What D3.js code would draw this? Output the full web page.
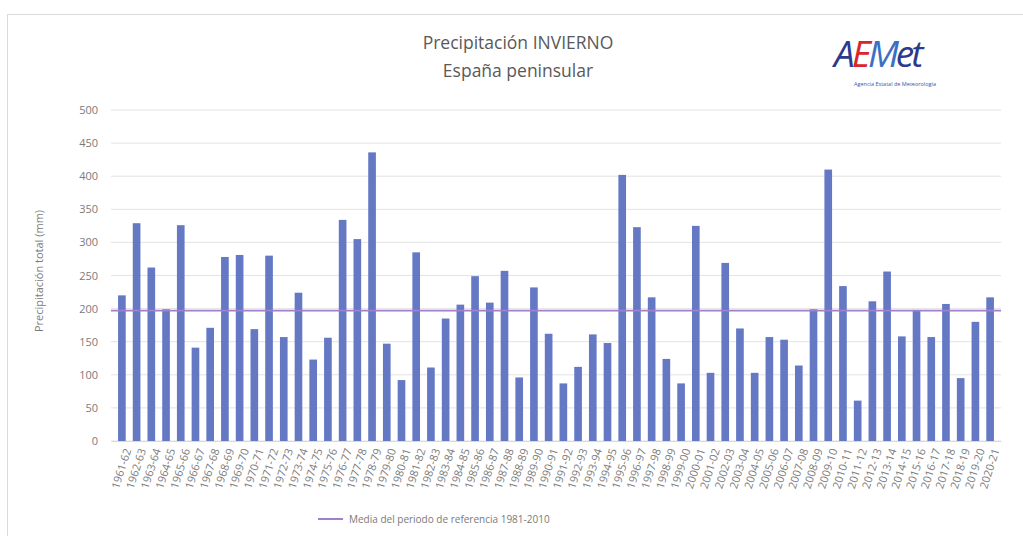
<!DOCTYPE html>
<html>
<head>
<meta charset="UTF-8">
<title>Precipitación INVIERNO</title>
<script src="https://d3js.org/d3.v7.min.js"></script>
<style>
    body {margin: 0; background: #fff;}
    text {font-family: "Open Sans", sans-serif;}
    .grid line {stroke: #e3e3e3;}
</style>
</head>
<body>
<div id="chart"></div>
<script>

    // temporadas de invierno
    var seasons = [];
    for (var y = 1961; y <= 2020; y++) {
        seasons.push(y + "-" + String((y + 1) % 100).padStart(2, "0"));
    }

    // precipitación total (mm)
    var precip = [
        220, 329, 262, 199, 326, 141, 171, 278, 281, 169,
        280, 157, 224, 123, 156, 334, 305, 436, 147, 92,
        285, 111, 185, 206, 249, 209, 257, 96, 232, 162,
        87, 112, 161, 148, 402, 323, 217, 124, 87, 325,
        103, 269, 170, 103, 157, 153, 114, 199, 410, 234,
        61, 211, 256, 158, 198, 157, 207, 95, 180, 217
    ];

    var refMean = 197;
    var yTicks = [0, 50, 100, 150, 200, 250, 300, 350, 400, 450, 500];

    var W = 1023, H = 536;
    var margin = {top: 110, left: 111},
        width = 1001 - margin.left,
        height = 441 - margin.top;

    var svg = d3.select("#chart").append("svg")
        .attr("width", W)
        .attr("height", H);

    // marco
    svg.append("rect")
        .attr("x", 7.5).attr("y", 14.5)
        .attr("width", W + 10).attr("height", H)
        .attr("fill", "white")
        .attr("stroke", "#d9d9d9");

    var g = svg.append("g")
        .attr("transform", "translate(" + margin.left + "," + margin.top + ")");

    var x = d3.scaleBand()
        .domain(seasons)
        .range([0, width])
        .padding(0.48);

    var yScale = d3.scaleLinear()
        .domain([0, 500])
        .range([height, 0]);

    // rejilla horizontal
    g.append("g").attr("class", "grid")
        .selectAll("line")
        .data(yTicks)
        .enter().append("line")
        .attr("x1", 0).attr("x2", width)
        .attr("y1", function(d) {return yScale(d)})
        .attr("y2", function(d) {return yScale(d)});

    // eje Y
    var yAxis = g.append("g")
        .call(d3.axisLeft(yScale).tickValues(yTicks).tickSize(0).tickPadding(13));
    yAxis.select(".domain").remove();
    yAxis.selectAll("text").attr("font-size", 11).attr("fill", "#7a7a7a");

    // barras
    g.selectAll("rect.bar")
        .data(precip)
        .enter().append("rect")
        .attr("class", "bar")
        .attr("x", function(d, i) {return x(seasons[i])})
        .attr("width", x.bandwidth())
        .attr("y", function(d) {return yScale(d)})
        .attr("height", function(d) {return height - yScale(d)})
        .attr("fill", "#6478c4");

    // media 1981-2010
    g.append("line")
        .attr("x1", 0).attr("x2", width)
        .attr("y1", yScale(refMean)).attr("y2", yScale(refMean))
        .attr("stroke", "#a07fcc")
        .attr("stroke-width", 1.75);

    // eje X
    var xAxis = g.append("g")
        .attr("transform", "translate(0," + height + ")")
        .call(d3.axisBottom(x).tickSize(0));
    xAxis.select(".domain").attr("stroke", "#d9d9d9");
    xAxis.selectAll("text")
        .attr("font-size", 11)
        .attr("fill", "#7a7a7a")
        .attr("text-anchor", "end")
        .attr("dy", "0.35em")
        .attr("transform", "translate(3,7) rotate(-72)");

    // títulos
    svg.append("text")
        .attr("x", 518).attr("y", 49)
        .attr("text-anchor", "middle")
        .attr("font-size", 17.5)
        .attr("fill", "#595959")
        .text("Precipitación INVIERNO");
    svg.append("text")
        .attr("x", 518).attr("y", 77)
        .attr("text-anchor", "middle")
        .attr("font-size", 17.5)
        .attr("fill", "#595959")
        .text("España peninsular");

    svg.append("text")
        .attr("transform", "translate(43,271) rotate(-90)")
        .attr("text-anchor", "middle")
        .attr("font-size", 11)
        .attr("fill", "#7a7a7a")
        .text("Precipitación total (mm)");

    // leyenda
    svg.append("line")
        .attr("x1", 318).attr("x2", 343)
        .attr("y1", 519).attr("y2", 519)
        .attr("stroke", "#a07fcc")
        .attr("stroke-width", 2);
    svg.append("text")
        .attr("x", 349).attr("y", 523)
        .attr("font-size", 10)
        .attr("fill", "#7a7a7a")
        .text("Media del periodo de referencia 1981-2010");

    // logo AEMet
    var logo = svg.append("text")
        .attr("x", 834).attr("y", 67)
        .attr("font-size", 37)
        .attr("font-style", "italic")
        .attr("font-family", "DejaVu Sans, sans-serif")
        .attr("letter-spacing", -3);
    logo.append("tspan").attr("fill", "#2b3a8c").text("A");
    logo.append("tspan").attr("fill", "#d8262b").text("E");
    logo.append("tspan").attr("fill", "#3a70c4").text("M");
    logo.append("tspan").attr("fill", "#2b3a8c").text("et");
    svg.append("text")
        .attr("x", 895).attr("y", 86)
        .attr("text-anchor", "middle")
        .attr("font-size", 5.5)
        .attr("fill", "#3a56a8")
        .text("Agencia Estatal de Meteorología");

</script>
</body>
</html>
